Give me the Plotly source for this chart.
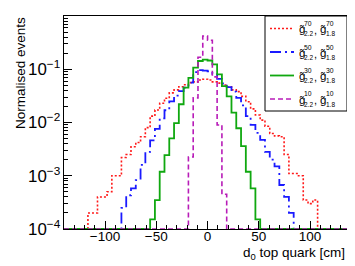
import numpy as np
import plotly.graph_objects as go

# ---- binning (60 bins from -140 to 140 cm) ----
BIN_LOW, BIN_HIGH, N_BINS = -140.0, 140.0, 60
Y_FLOOR = 1e-4

# ---- series values (normalised events per bin) ----
red_g70 = [0, 0, 0, 0, 0,
           2.0e-4, 2.0e-4, 4.0e-4, 4.0e-4, 5.0e-4,
           1.0e-3, 1.0e-3, 2.2e-3, 2.5e-3, 3.5e-3,
           4.2e-3, 5.4e-3, 8.0e-3, 0.0132, 0.0172,
           0.023, 0.0285, 0.036, 0.041, 0.047,
           0.051, 0.056, 0.058, 0.063, 0.065,
           0.063, 0.058, 0.055, 0.0506, 0.047,
           0.041, 0.038, 0.031, 0.0246, 0.018,
           0.0138, 0.0111, 0.0085, 0.0062, 0.0056,
           0.0054, 0.0025, 0.0011, 0.0011, 0.0010,
           3.5e-4, 3.0e-4, 3.5e-4, 0, 0,
           0, 0, 0, 0, 0]

blue_g50 = [0, 0, 0, 0, 0,
            0, 0, 0, 0, 0,
            0, 0, 2.5e-4, 4.3e-4, 5.8e-4,
            8.3e-4, 1.6e-3, 2.8e-3, 4.6e-3, 7.6e-3,
            0.012, 0.017, 0.025, 0.032, 0.039,
            0.045, 0.056, 0.088, 0.096, 0.094,
            0.091, 0.082, 0.066, 0.054, 0.046,
            0.038, 0.029, 0.021, 0.0132, 0.009,
            0.0064, 0.0047, 0.0028, 0.0020, 0.0015,
            6.7e-4, 4.0e-4, 2.0e-4, 0, 0,
            0, 0, 0, 0, 0,
            0, 0, 0, 0, 0]

green_g30 = [0, 0, 0, 0, 0,
             0, 0, 0, 0, 0,
             0, 0, 0, 0, 0,
             0, 0, 0, 1.52e-4, 3.5e-4,
             1.19e-3, 2.45e-3, 5.05e-3, 9.7e-3, 0.022,
             0.045, 0.069, 0.107, 0.143, 0.152,
             0.146, 0.124, 0.080, 0.048, 0.031,
             0.0153, 7.8e-3, 3.6e-3, 1.19e-3, 5.8e-4,
             1.52e-4, 0, 0, 0, 0,
             0, 0, 0, 0, 0,
             0, 0, 0, 0, 0,
             0, 0, 0, 0, 0]

magenta_g10 = [0] * 26 + [2.25e-3, 0.029, 0.168, 0.42, 0.35,
                          0.072, 9.0e-3, 4.5e-4] + [0] * 26

series_names = ["g70", "g50", "g30", "g10"]
series_sup = ["70", "50", "30", "10"]
series_values = [red_g70, blue_g50, green_g30, magenta_g10]
series_colors = ["#ff1a1a", "#1a1aff", "#10a810", "#b81cb8"]
series_dash = ["2px,2px", "11px,4px,2px,4px", "solid", "5px,3px"]
series_width = [1.6, 1.8, 1.8, 1.6]

x_tick_step = 50
x_minor_step = 10
x_range = [-140, 136]
y_range_log = [-4, 0]

FONT = "Liberation Sans, Arial, Helvetica, sans-serif"

edges = np.linspace(BIN_LOW, BIN_HIGH, N_BINS + 1)

fig = go.Figure()
for name, vals, col, dash, w in zip(series_names, series_values, series_colors,
                                    series_dash, series_width):
    v = np.maximum(np.asarray(vals, dtype=float), Y_FLOOR)
    y = np.append(v, v[-1])
    fig.add_trace(go.Scatter(x=edges, y=y, mode="lines", line_shape="hv",
                             name=name,
                             line=dict(color=col, dash=dash, width=w),
                             hoverinfo="skip"))

# ---- geometry (page body has an 8 px margin; coordinates below are
#      screen pixels of the 355x266 window) ----
OFF = 8
SW, SH = 355, 266
W, H = SW - OFF, SH - OFF
PL, PR, PT, PB = 64, 347, 16, 229     # plot frame in screen px
L, R, T, B = PL - OFF, (SW) - PR, PT - OFF, SH - PB
PW, PH = PR - PL, PB - PT


def px(xpix):
    return (xpix - PL) / PW


def py(ypix):
    return (PB - ypix) / PH


shapes = []
annotations = []

# legend box
shapes.append(dict(type="rect", xref="paper", yref="paper",
                   x0=px(265), x1=1.0, y0=py(111), y1=1.0,
                   line=dict(color="black", width=1), fillcolor="white",
                   layer="above"))

row_y = [28.5, 52, 75.5, 99]
for r, (sup, col, dash, w) in enumerate(zip(series_sup, series_colors,
                                            series_dash, series_width)):
    yc = row_y[r]
    shapes.append(dict(type="line", xref="paper", yref="paper",
                       x0=px(270), x1=px(294), y0=py(yc), y1=py(yc),
                       line=dict(color=col, dash=dash, width=w), layer="above"))
    pieces = [
        ("g\u0303", 297.5, yc + 0.5, 11.5),
        (sup, 303.3, yc - 5.0, 6.8),
        ("2.2", 303.3, yc + 5.0, 6.5),
        (",", 312.6, yc + 1.5, 11),
        ("g\u0303", 319.0, yc + 0.5, 11.5),
        (sup, 324.8, yc - 5.0, 6.8),
        ("1.8", 324.8, yc + 5.0, 6.5),
    ]
    for txt, xx, yy, fs in pieces:
        annotations.append(dict(text=txt, xref="paper", yref="paper",
                                x=px(xx), y=py(yy), xanchor="left",
                                yanchor="middle", showarrow=False,
                                borderpad=0,
                                font=dict(family=FONT, size=fs, color="black")))

# axis titles
annotations.append(dict(text="Normalised events", xref="paper", yref="paper",
                        x=px(21), y=py(15), xanchor="center", yanchor="top",
                        textangle=-90, showarrow=False,
                        font=dict(family=FONT, size=13.5, color="black")))
annotations.append(dict(text="d<sub>0</sub> top quark [cm]", xref="paper",
                        yref="paper", x=1.0, y=py(253), xanchor="right",
                        yanchor="middle", showarrow=False,
                        font=dict(family=FONT, size=13.5, color="black")))

fig.update_layout(
    width=W, height=H,
    margin=dict(l=L, r=R, t=T, b=B, pad=0),
    paper_bgcolor="white", plot_bgcolor="white",
    showlegend=False,
    font=dict(family=FONT, size=13, color="black"),
    shapes=shapes, annotations=annotations,
)
fig.update_xaxes(range=x_range, dtick=x_tick_step, tick0=0,
                 ticks="inside", ticklen=8, tickcolor="black", tickwidth=1,
                 ticklabelstandoff=-5,
                 showline=True, linecolor="black", linewidth=1, mirror=True,
                 showgrid=False, zeroline=False,
                 tickfont=dict(family=FONT, size=13.5, color="black"),
                 minor=dict(dtick=x_minor_step, tick0=0, ticks="inside",
                            ticklen=4, tickcolor="black", showgrid=False))
fig.update_yaxes(type="log", range=y_range_log, dtick=1,
                 exponentformat="power",
                 ticks="inside", ticklen=8, tickcolor="black", tickwidth=1,
                 showline=True, linecolor="black", linewidth=1, mirror=True,
                 showgrid=False, zeroline=False,
                 tickfont=dict(family=FONT, size=13.5, color="black"),
                 minor=dict(ticks="inside", ticklen=4, tickcolor="black",
                            showgrid=False))

fig.write_html("out.html")
